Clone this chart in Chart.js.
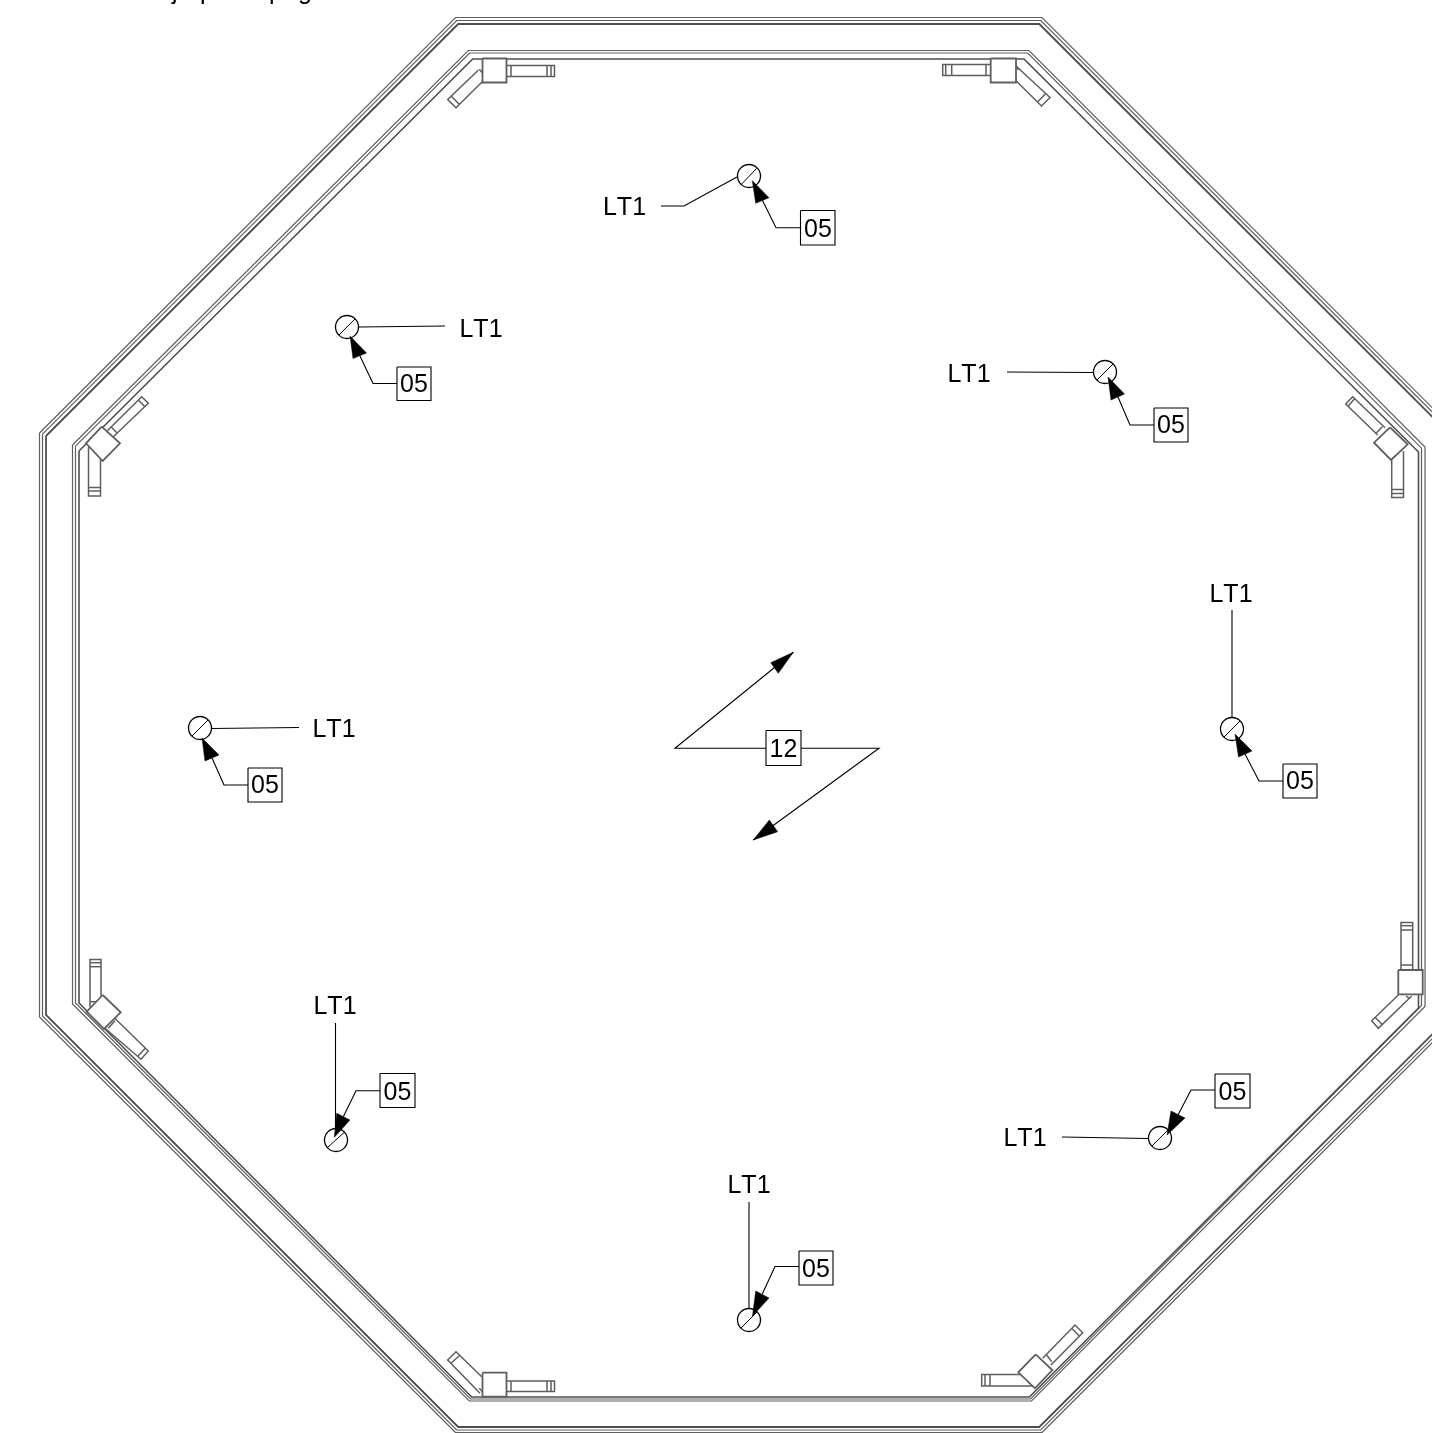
<!DOCTYPE html>
<html>
<head>
<meta charset="utf-8">
<title>Plano</title>
<style>
  html, body { margin: 0; padding: 0; background: #fff; }
  canvas { display: block; }
</style>
<script src="https://cdn.jsdelivr.net/npm/chart.js@4/dist/chart.umd.js"></script>
</head>
<body>
<canvas id="plano" width="1432" height="1433"></canvas>
<script>
"use strict";

const WIDTH = 1432;
const HEIGHT = 1433;

// octagon rings, values
const wallOuter = [[39.5, 433], [455.5, 17.5], [1042, 17.5], [1458, 433.5], [1458, 1017], [1042, 1432.5], [455.5, 1432.5], [39.5, 1017]];
const wallMiddle = [[42.5, 434.2], [456.7, 20.5], [1040.8, 20.5], [1455, 434.7], [1455, 1016], [1040.8, 1430], [456.7, 1430], [42.5, 1016]];
const wallInner = [[46, 436], [458.2, 24], [1039.3, 24], [1451.5, 436], [1451.5, 1015], [1039.3, 1427], [458.2, 1427], [46, 1015]];
const frameOuter = [[72.5, 445], [468.3, 50.5], [1029, 50.5], [1425, 447], [1425, 1006.5], [1031.5, 1401], [469.3, 1401], [72.5, 1004]];
const frameMiddle = [[75.5, 446.2], [469.6, 53], [1027.8, 53], [1421.5, 448.2], [1421.5, 1005.5], [1030.5, 1399], [470.5, 1399], [75.5, 1003]];
const frameInner = [[79, 451], [472.7, 59], [1024, 59], [1418.5, 452], [1418.5, 1008], [1029.3, 1397], [471.7, 1397], [79, 1003]];

// brackets: first polyline is the square, the rest are arms and cross lines
const bracketTopLeft = [
  [[482.5, 58.5], [506.5, 58.5], [506.5, 82.5], [482.5, 82.5], [482.5, 58.5]],
  [[506.5, 65.5], [554.5, 65.5], [554.5, 76.5], [506.5, 76.5]],
  [[511, 65.5], [511, 76.5]], [[547, 65.5], [547, 76.5]], [[551, 65.5], [551, 76.5]],
  [[478.5, 70], [447.7, 99.5], [456, 107.7], [482.5, 81.5]],
  [[451, 96], [459.3, 104.3]], [[479.3, 69.3], [482.5, 73]]
];
const bracketTopRight = [
  [[990.7, 58.5], [1016, 58.5], [1016, 82.5], [990.7, 82.5], [990.7, 58.5]],
  [[990.7, 64.5], [942.7, 64.5], [942.7, 75.5], [990.7, 75.5]],
  [[945.7, 64.5], [945.7, 75.5]], [[951.7, 64.5], [951.7, 75.5]], [[986, 64.5], [986, 75.5]],
  [[1016, 66], [1050, 97.5], [1041.5, 106], [1016, 80.7]],
  [[1046, 93.3], [1037.7, 101.7]], [[1016, 65], [1018.5, 70]]
];
const bracketLeftUpper = [
  [[101.7, 426.7], [120, 443.3], [102.7, 461], [86, 443.3], [101.7, 426.7]],
  [[107.3, 430.7], [141.7, 396.7], [148.3, 403.3], [113.3, 436.7]],
  [[138.3, 400], [145, 406.7]], [[111, 426.7], [117.3, 433.3]],
  [[88.5, 447], [88.5, 496], [100.5, 496], [100.5, 459]],
  [[88.5, 487.5], [100.5, 487.5]], [[88.5, 491], [100.5, 491]]
];
const bracketRightUpper = [
  [[1390, 427.3], [1407.7, 444.3], [1391, 460], [1374, 442.7], [1390, 427.3]],
  [[1385, 427.7], [1352.7, 396.7], [1345.7, 404], [1377.7, 435]],
  [[1355, 398.3], [1348.3, 406]], [[1382.3, 426.7], [1376, 433.3]],
  [[1391.7, 460], [1391.7, 497.5], [1403.5, 497.5], [1403.5, 451]],
  [[1391.7, 489.5], [1403.5, 489.5]], [[1391.7, 493.5], [1403.5, 493.5]]
];
const bracketRightLower = [
  [[1398.3, 970], [1422.7, 970], [1422.7, 994.3], [1398.3, 994.3], [1398.3, 970]],
  [[1401, 970], [1401, 922.5], [1412.7, 922.5], [1412.7, 970]],
  [[1401, 925.7], [1412.7, 925.7]], [[1401, 930], [1412.7, 930]], [[1401, 965], [1412.7, 965]],
  [[1398.3, 995], [1371.7, 1020.7], [1378.3, 1028.3], [1411.7, 996]],
  [[1375, 1017.3], [1382.7, 1025]], [[1406, 996], [1409.3, 998.3]]
];
const bracketBottomRight = [
  [[1035.7, 1354.3], [1052.3, 1370], [1035, 1388.3], [1018.3, 1372.3], [1035.7, 1354.3]],
  [[1042.7, 1358.3], [1075, 1325], [1082.7, 1332.7], [1051, 1365]],
  [[1071.7, 1328.3], [1079.3, 1336]], [[1046.7, 1355], [1051.7, 1361.7]],
  [[1020, 1374.5], [981.7, 1374.5], [981.7, 1386], [1033, 1386]],
  [[985, 1374.5], [985, 1386]], [[990, 1374.5], [990, 1386]], [[1025, 1377], [1030, 1384]]
];
const bracketBottomLeft = [
  [[482.5, 1372.7], [506.5, 1372.7], [506.5, 1396.7], [482.5, 1396.7], [482.5, 1372.7]],
  [[506.5, 1381], [554.5, 1381], [554.5, 1391.5], [506.5, 1391.5]],
  [[511, 1381], [511, 1391.5]], [[547, 1381], [547, 1391.5]], [[551, 1381], [551, 1391.5]],
  [[481.7, 1376.7], [456, 1351.7], [447.7, 1360], [480, 1393.3]],
  [[459.3, 1355.7], [451, 1363.3]], [[479.3, 1388.3], [482.3, 1391.7]]
];
const bracketLeftLower = [
  [[102.7, 995], [120.7, 1012.3], [104, 1029], [86.7, 1011.7], [102.7, 995]],
  [[90, 1007], [90, 959.5], [101, 959.5], [101, 996]],
  [[90, 962.7], [101, 962.7]], [[90, 966.7], [101, 966.7]], [[90, 1001.7], [101, 1001.7]],
  [[113.3, 1016.7], [148.3, 1051], [141, 1059.3], [105, 1028.3]],
  [[145.5, 1048], [138, 1056]], [[115, 1020.7], [108.3, 1028.3]]
];

// fixtures: circle centres, slash, leader to the LT1 text
const lampCentres = [[749, 176], [347, 327], [1105, 372], [1232, 729], [200, 728], [336, 1140], [749, 1320], [1160, 1138]];
const lampSlashes = [
  [[740.7, 185], [756.7, 168.3]], [[339, 335], [355, 319]], [[1097, 380], [1113, 364]], [[1224, 737], [1240, 721]],
  [[192, 736], [208, 720]], [[327.7, 1147.3], [345, 1131.7]], [[741, 1328], [757, 1312]], [[1152, 1146], [1168, 1130]]
];
const lampLeaders = [
  [[661, 206], [684, 206], [737, 177]], [[359, 327], [445, 326]], [[1007, 372], [1093, 372.5]], [[1232, 610], [1232, 717]],
  [[212, 728.5], [299, 727.5]], [[335.5, 1023], [335.5, 1128]], [[749, 1202], [749, 1308]], [[1062, 1137], [1148, 1138.5]]
];

// arrows from the 05 boxes: box edge, elbow, arrow base
const tagLeaders = [
  [[800.7, 227.7], [776, 227.7], [762.3, 200]], [[397, 383.5], [373, 383.5], [360, 356]],
  [[1154, 425], [1130, 425], [1118, 397]], [[1283, 781], [1259, 781], [1245, 754]],
  [[248, 785], [224, 785], [212, 758]], [[380, 1090.7], [356, 1090.7], [343.3, 1116.7]],
  [[799, 1266.5], [775, 1266.5], [762.3, 1294]], [[1215, 1090], [1191, 1090], [1178, 1115]]
];
const tagArrowheads = [
  [[752.3, 180.7], [755.7, 203.3], [769, 197.7]], [[350, 336], [353, 358.5], [366.5, 353]],
  [[1108, 377], [1111, 400], [1124.5, 394]], [[1235, 734], [1238.5, 757], [1252, 751]],
  [[202, 738], [205, 761], [219, 755]], [[334.3, 1137.3], [336.7, 1113.3], [350, 1120]],
  [[752.5, 1316], [755.7, 1291], [769, 1298]], [[1167, 1135], [1171, 1111], [1185, 1118]]
];
const tagBoxes = [
  [[800.5, 210.5], [835, 210.5], [835, 245], [800.5, 245], [800.5, 210.5]],
  [[397, 367], [431, 367], [431, 400.5], [397, 400.5], [397, 367]],
  [[1154, 408], [1188, 408], [1188, 442], [1154, 442], [1154, 408]],
  [[1283, 764], [1317, 764], [1317, 798], [1283, 798], [1283, 764]],
  [[248, 768], [282, 768], [282, 802], [248, 802], [248, 768]],
  [[380, 1073.5], [415, 1073.5], [415, 1107.5], [380, 1107.5], [380, 1073.5]],
  [[799, 1251], [833, 1251], [833, 1285], [799, 1285], [799, 1251]],
  [[1215, 1074], [1250, 1074], [1250, 1108], [1215, 1108], [1215, 1074]]
];

// break symbol in the middle
const breakLine = [[793.3, 652.3], [675, 748.3], [879, 748.3], [753.3, 840]];
const breakHeads = [
  [[793.3, 652.3], [770.7, 662.7], [778.3, 673.3]],
  [[753.3, 840], [769.3, 820], [777.7, 831.7]]
];
const breakBox = [[766, 730.5], [801, 730.5], [801, 765.5], [766, 765.5], [766, 730.5]];

// texts
const labelTexts = ["LT1", "LT1", "LT1", "LT1", "LT1", "LT1", "LT1", "LT1", "05", "05", "05", "05", "05", "05", "05", "05", "12"];
const labelX = [624.5, 481, 969, 1231, 334, 335, 749, 1025, 818, 414, 1171, 1300, 265, 397.5, 816, 1232.5, 783.5];
const labelY = [208.5, 330.5, 375.5, 595.5, 730.5, 1007.5, 1186.5, 1139.5, 230.5, 385.5, 426.5, 782.5, 786.5, 1093.5, 1270.5, 1093.5, 750.5];
// line cut off by the top of the page, only descenders show
const cutTexts = ["j/", "p", "p", "g"];
const cutX = [172, 200, 269, 298];
const cutY = [-1, -1, -1, -1];

const toPoints = (pts) => pts.map(([x, y]) => ({ x, y }));
const closed = (pts) => pts.concat([pts[0]]);

function lineSet(pts, color, width, fillColor) {
  return {
    data: toPoints(pts),
    showLine: true,
    pointRadius: 0,
    borderColor: color,
    borderWidth: width,
    borderJoinStyle: "miter",
    tension: 0,
    fill: fillColor ? "shape" : false,
    backgroundColor: fillColor || "transparent",
  };
}

const GRIS = "#5e5e5e";
const NEGRO = "#000000";

// pushed in paint order, reversed at the end since chart.js paints the last dataset first
const capas = [];
[wallOuter, wallMiddle].forEach((r) => capas.push(lineSet(closed(r), GRIS, 1.2)));
capas.push(lineSet(closed(wallInner), "#4d4d4d", 1.8));
[frameOuter, frameMiddle].forEach((r) => capas.push(lineSet(closed(r), GRIS, 1.2)));
capas.push(lineSet(closed(frameInner), "#4d4d4d", 1.6));

[bracketTopLeft, bracketTopRight, bracketLeftUpper, bracketRightUpper,
  bracketRightLower, bracketBottomRight, bracketBottomLeft, bracketLeftLower].forEach((b) => {
  b.slice(1).forEach((l) => capas.push(lineSet(l, GRIS, 1.5)));
  capas.push(lineSet(b[0], GRIS, 1.8, "#ffffff"));
});

capas.push({
  data: toPoints(lampCentres),
  showLine: false,
  pointStyle: "circle",
  pointRadius: 11.5,
  pointBorderWidth: 1.3,
  pointBorderColor: NEGRO,
  pointBackgroundColor: "#ffffff",
});
lampSlashes.forEach((l) => capas.push(lineSet(l, NEGRO, 1)));
lampLeaders.forEach((l) => capas.push(lineSet(l, NEGRO, 1.1)));
tagLeaders.forEach((l) => capas.push(lineSet(l, NEGRO, 1.1)));
tagArrowheads.forEach((h) => capas.push(lineSet(closed(h), NEGRO, 0.5, NEGRO)));
tagBoxes.forEach((b) => capas.push(lineSet(b, NEGRO, 1.1, "#ffffff")));

capas.push(lineSet(breakLine, NEGRO, 1.1));
breakHeads.forEach((h) => capas.push(lineSet(closed(h), NEGRO, 0.5, NEGRO)));
capas.push(lineSet(breakBox, NEGRO, 1.1, "#ffffff"));

const textos = {
  id: "textos",
  afterDatasetsDraw(chart) {
    const { ctx, scales } = chart;
    ctx.save();
    ctx.fillStyle = NEGRO;
    ctx.font = '25px "Liberation Sans", Arial, sans-serif';
    ctx.fontKerning = "none";
    ctx.textAlign = "center";
    ctx.textBaseline = "middle";
    labelTexts.forEach((t, i) => {
      ctx.fillText(t, scales.x.getPixelForValue(labelX[i]), scales.y.getPixelForValue(labelY[i]));
    });
    ctx.textAlign = "left";
    ctx.textBaseline = "alphabetic";
    cutTexts.forEach((t, i) => {
      ctx.fillText(t, scales.x.getPixelForValue(cutX[i]), scales.y.getPixelForValue(cutY[i]));
    });
    ctx.restore();
  },
};

new Chart(document.getElementById("plano"), {
  type: "scatter",
  data: { datasets: capas.reverse() },
  plugins: [textos],
  options: {
    responsive: false,
    animation: false,
    layout: { padding: 0, autoPadding: false },
    plugins: { legend: { display: false }, tooltip: { enabled: false } },
    scales: {
      x: { type: "linear", display: false, min: 0, max: WIDTH },
      y: { type: "linear", display: false, min: 0, max: HEIGHT, reverse: true },
    },
  },
});
</script>
</body>
</html>
